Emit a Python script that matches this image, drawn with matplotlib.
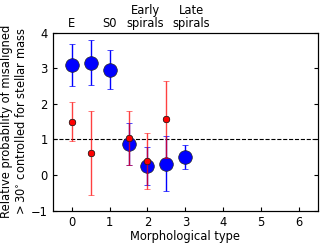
import matplotlib
matplotlib.use("Agg")
import matplotlib.pyplot as plt
import numpy as np

blue_x = [0, 0.5, 1, 1.5, 2, 2.5, 3]
blue_y = [3.08, 3.15, 2.96, 0.87, 0.25, 0.32, 0.50]
blue_lo = [2.50, 2.53, 2.42, 0.29, -0.28, -0.45, 0.17]
blue_hi = [3.67, 3.78, 3.51, 1.45, 0.79, 1.10, 0.84]

red_x = [0, 0.5, 1.5, 2, 2.5]
red_y = [1.50, 0.62, 1.04, 0.39, 1.57]
red_lo = [0.95, -0.57, 0.29, -0.39, 0.48]
red_hi = [2.05, 1.80, 1.80, 1.18, 2.65]

top_ticks = [0, 1, 1.95, 3.15]
top_labels = ["E", "S0", "Early\nspirals", "Late\nspirals"]

FS = 8.3
fig = plt.figure(figsize=(3.27, 2.45), dpi=100)
ax = fig.add_axes([0.161, 0.14, 0.812, 0.727])

by = np.array(blue_y); ry = np.array(red_y)
ax.errorbar(blue_x, by, yerr=[by - np.array(blue_lo), np.array(blue_hi) - by],
            fmt='o', color='blue', ecolor='blue', markersize=9.8, elinewidth=1,
            capsize=2, markeredgecolor='#222222', markeredgewidth=0.5, zorder=2)
ax.errorbar(red_x, ry, yerr=[ry - np.array(red_lo), np.array(red_hi) - ry],
            fmt='o', color='red', ecolor='red', markersize=4.6, elinewidth=1,
            capsize=2, alpha=0.75, markeredgecolor='#222222', markeredgewidth=0.5, zorder=3)
ax.scatter(red_x, red_y, s=22, color='red', edgecolor='#222222', linewidth=0.5, zorder=4)

ax.axhline(1, color='black', linestyle='--', linewidth=0.8, zorder=1)
ax.set_xlim(-0.5, 6.5)
ax.set_ylim(-1, 4)
ax.set_xticks(range(0, 7))
ax.set_yticks(range(-1, 5))
ax.tick_params(direction='in', top=True, right=True, labelsize=FS, length=3)
ax.set_xlabel("Morphological type", fontsize=FS, labelpad=1)
ax.set_ylabel("Relative probability of misaligned\n$>30^{\\circ}$ controlled for stellar mass",
              fontsize=FS, labelpad=2, linespacing=1.1)

ax2 = ax.twiny()
ax2.set_xlim(ax.get_xlim())
ax2.set_xticks(top_ticks)
ax2.set_xticklabels(top_labels, fontsize=FS, linespacing=1.0)
ax2.tick_params(direction='in', length=0, pad=2)

fig.savefig("out.png", dpi=100)
